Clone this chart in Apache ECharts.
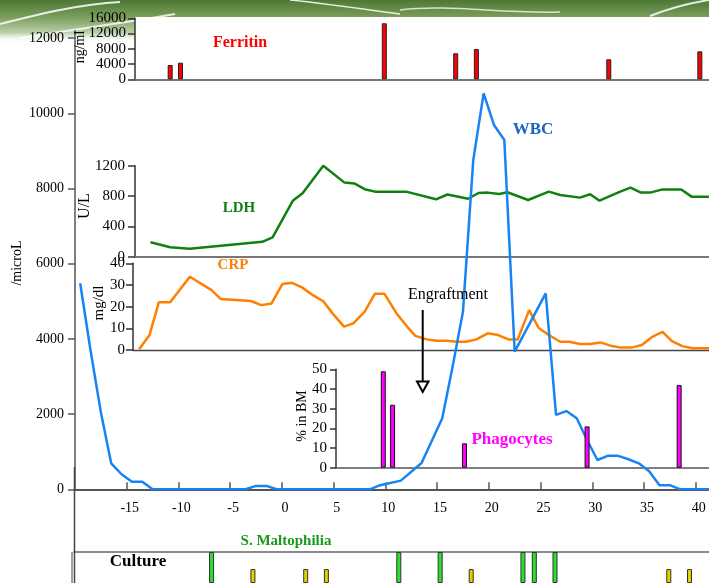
<!DOCTYPE html>
<html>
<head>
<meta charset="utf-8">
<title>WBC, LDH, CRP, Ferritin</title>
<script src="https://cdn.jsdelivr.net/npm/echarts@6/dist/echarts.min.js"></script>
<style>
  html, body { margin: 0; padding: 0; background: #fff; }
  #chart { width: 709px; height: 583px; }
</style>
</head>
<body>
<div id="chart"></div>
<script>
// tick labels
var dayTicks = [-15, -10, -5, 0, 5, 10, 15, 20, 25, 30, 35, 40];
var wbcTicks = [0, 2000, 4000, 6000, 8000, 10000, 12000];
var ferritinTicks = [0, 4000, 8000, 12000, 16000];
var ldhTicks = [0, 400, 800, 1200];
var crpTicks = [0, 10, 20, 30, 40];
var phagoTicks = [0, 10, 20, 30, 40, 50];

// WBC (/microL)
var wbcDays = [-19.5, -18.5, -17.5, -16.5, -15.5, -14.5, -13.5, -12.5, -3.5, -2.5, -1.5, -0.5, 8.5, 9.5, 11.5, 13.5, 15.5, 16.5, 17.5, 18.5, 19.5, 20.5, 21.5, 22.5, 25.5, 26.5, 27.5, 28.5, 29.5, 30.5, 31.5, 32.5, 33.5, 34.5, 35.5, 36.5, 37.5, 38.5, 41.3];
var wbcValues = [5480, 3700, 2050, 690, 400, 200, 200, 0, 0, 90, 90, 0, 0, 110, 230, 700, 1890, 3260, 4720, 8760, 10530, 9690, 9290, 3660, 5210, 1980, 2080, 1890, 1310, 780, 890, 890, 800, 690, 480, 110, 110, 0, 0];

// Ferritin (ng/ml)
var ferritinDays = [-10.8, -9.8, 9.9, 16.8, 18.8, 31.6, 40.4];
var ferritinValues = [3750, 4350, 14690, 6820, 7950, 5250, 7340];

// LDH (U/L)
var ldhDays = [-12.7, -10.8, -8.9, -1.9, -0.9, 1.05, 2.0, 4.0, 6.05, 7.0, 8.0, 9.0, 12.0, 14.9, 16.0, 18.0, 19.0, 19.9, 21.0, 21.8, 23.8, 25.8, 26.9, 28.8, 29.8, 30.7, 32.7, 33.7, 34.7, 35.6, 36.7, 38.6, 39.6, 41.3];
var ldhValues = [190, 124, 106, 196, 256, 737, 836, 1200, 977, 966, 890, 858, 858, 757, 820, 764, 840, 845, 828, 850, 748, 858, 814, 779, 823, 739, 858, 911, 845, 845, 885, 885, 792, 792];

// CRP (mg/dl)
var crpDays = [-13.8, -12.8, -11.9, -10.8, -8.9, -6.8, -5.9, -3.0, -2.0, -1.0, 0.04, 0.98, 1.94, 3.0, 4.0, 4.9, 6.0, 6.9, 8.0, 9.0, 9.9, 11.07, 12.1, 12.9, 14.0, 14.9, 15.9, 16.9, 17.8, 18.8, 19.9, 20.9, 21.9, 22.8, 23.9, 24.8, 25.8, 26.9, 27.8, 28.8, 29.8, 30.8, 31.9, 32.8, 33.8, 34.8, 35.8, 36.8, 37.7, 38.7, 39.7, 41.3];
var crpValues = [0.3, 6.9, 22, 22, 33.8, 27.6, 23.5, 22.6, 20.7, 21.5, 30.4, 31, 28.9, 25.3, 22.5, 16.9, 10.8, 12.3, 17.7, 26, 26, 17, 10.8, 6.5, 4.9, 4.3, 4.3, 3.8, 3.8, 4.9, 7.7, 6.9, 4.9, 4.9, 18.4, 10.3, 6.9, 3.8, 3.8, 2.8, 2.8, 3.5, 1.8, 1.1, 1.1, 2.3, 6.1, 8.4, 4.1, 1.8, 0.8, 0.8];

// Phagocytes (% in BM)
var phagoDays = [9.8, 10.7, 17.65, 29.5, 38.4];
var phagoValues = [49, 32, 12.4, 21, 42];

// Culture: S. Maltophilia (green) and other (yellow)
var maltoDays = [-6.8, 11.3, 15.3, 23.3, 24.4, 26.4];
var maltoLevels = [1, 1, 1, 1, 1, 1];
var otherDays = [-2.8, 2.3, 4.3, 18.3, 37.4, 39.4];
var otherLevels = [0.45, 0.45, 0.45, 0.45, 0.45, 0.45];

function pairs(xs, ys) {
  return xs.map(function (x, i) { return [x, ys[i]]; });
}

var W = 709, H = 583;
var day0Px = 281.9, pxPerDay = 10.345;
function dayAt(px) { return (px - day0Px) / pxPerDay; }
var dayMax = dayAt(W);
var serif = '"Liberation Serif", "Times New Roman", serif';
var plain = function (v) { return String(v); };

function grid(left, top, zeroY) {
  return { left: left, top: top, right: 0, bottom: H - zeroY, containLabel: false, outerBoundsMode: 'none' };
}

var grids = [
  grid(75, 30.6, 489.3),   // WBC
  grid(135, 18.3, 79.3),   // Ferritin
  grid(135, 165.7, 256.7), // LDH
  grid(133, 263.3, 350),   // CRP
  grid(336, 369.3, 467.7), // Phagocytes
  { left: 74, top: 552, right: 0, bottom: 0, containLabel: false, outerBoundsMode: 'none' } // Culture
];

function insetX(i, color, width) {
  return {
    type: 'value', gridIndex: i, min: dayAt(grids[i].left), max: dayMax,
    axisLine: { onZero: false, lineStyle: { color: color, width: width } },
    axisTick: { show: false }, axisLabel: { show: false }, splitLine: { show: false }
  };
}

function insetY(i, max, ticks, margin, tickLen) {
  return {
    type: 'value', gridIndex: i, min: 0, max: max,
    axisLine: { show: true, onZero: false, lineStyle: { color: '#333', width: 1.5 } },
    axisTick: { show: true, length: tickLen, customValues: ticks, lineStyle: { color: '#333', width: 1.5 } },
    axisLabel: { customValues: ticks, formatter: plain, margin: margin, color: '#000', fontFamily: serif, fontSize: 15 },
    splitLine: { show: false }
  };
}

var xAxes = [
  {
    type: 'value', gridIndex: 0, min: dayAt(75), max: dayMax,
    axisLine: { onZero: false, lineStyle: { color: '#555', width: 2 } },
    axisTick: { inside: true, length: 7, customValues: dayTicks, lineStyle: { color: '#555', width: 1.5 } },
    axisLabel: { customValues: dayTicks, formatter: plain, margin: 12, color: '#000', fontFamily: serif, fontSize: 14, padding: [0, 0, 0, 6] },
    splitLine: { show: false }
  },
  insetX(1, '#777', 2),
  insetX(2, '#777', 2),
  insetX(3, '#444', 1.3),
  insetX(4, '#555', 1.5),
  {
    type: 'value', gridIndex: 5, min: dayAt(74), max: dayMax, position: 'top',
    axisLine: { onZero: false, lineStyle: { color: '#666', width: 1.5 } },
    axisTick: { show: false }, axisLabel: { show: false }, splitLine: { show: false }
  }
];

var yAxes = [
  {
    type: 'value', gridIndex: 0, min: 0, max: 12200,
    axisLine: { show: true, onZero: false, lineStyle: { color: '#555', width: 1.5 } },
    axisTick: { show: true, length: 7, customValues: wbcTicks, lineStyle: { color: '#555', width: 1.5 } },
    axisLabel: { customValues: wbcTicks, formatter: plain, margin: 11, color: '#000', fontFamily: serif, fontSize: 14 },
    splitLine: { show: false }
  },
  insetY(1, 16000, ferritinTicks, 9, 7),
  insetY(2, 1200, ldhTicks, 10, 7),
  insetY(3, 40, crpTicks, 8, 7),
  insetY(4, 50, phagoTicks, 9, 6),
  {
    type: 'value', gridIndex: 5, min: 0, max: 1,
    axisLine: { show: false }, axisTick: { show: false }, axisLabel: { show: false }, splitLine: { show: false }
  }
];

function label(text, x, y, color, size, bold) {
  return {
    type: 'text', x: x, y: y, z: 50,
    style: { text: text, fill: color, font: (bold ? 'bold ' : '') + size + 'px ' + serif, align: 'center', verticalAlign: 'middle' }
  };
}
function vlabel(text, x, y, size) {
  var t = label(text, x, y, '#000', size, false);
  t.rotation = Math.PI / 2;
  return t;
}

var graphics = [
  // green header strip
  { type: 'rect', z: -10, silent: true, shape: { x: 0, y: 0, width: W, height: 17 },
    style: { fill: new echarts.graphic.LinearGradient(0, 0, 0, 1, [{ offset: 0, color: '#4d7834' }, { offset: 1, color: '#7a9e5c' }]) } },
  { type: 'rect', z: -10, silent: true, shape: { x: 0, y: 17, width: 135, height: 26 },
    style: { fill: new echarts.graphic.LinearGradient(0, 0, 0, 1, [{ offset: 0, color: '#7a9e5c' }, { offset: 0.6, color: '#b9cfa8' }, { offset: 1, color: 'rgba(255,255,255,0)' }]) } },
  { type: 'bezierCurve', z: -9, silent: true, shape: { x1: 0, y1: 24, x2: 120, y2: 2, cpx1: 40, cpy1: 14, cpx2: 80, cpy2: 4 },
    style: { stroke: 'rgba(255,255,255,0.85)', lineWidth: 2, fill: null } },
  { type: 'bezierCurve', z: -9, silent: true, shape: { x1: 20, y1: 38, x2: 175, y2: 14, cpx1: 70, cpy1: 30, cpx2: 130, cpy2: 22 },
    style: { stroke: 'rgba(255,255,255,0.8)', lineWidth: 2, fill: null } },
  { type: 'bezierCurve', z: -9, silent: true, shape: { x1: 290, y1: 0, x2: 400, y2: 14, cpx1: 330, cpy1: 4, cpx2: 370, cpy2: 10 },
    style: { stroke: 'rgba(255,255,255,0.85)', lineWidth: 1.5, fill: null } },
  { type: 'bezierCurve', z: -9, silent: true, shape: { x1: 400, y1: 10, x2: 560, y2: 12, cpx1: 450, cpy1: 4, cpx2: 500, cpy2: 14 },
    style: { stroke: 'rgba(255,255,255,0.75)', lineWidth: 1.5, fill: null } },
  { type: 'bezierCurve', z: -9, silent: true, shape: { x1: 650, y1: 16, x2: 709, y2: 0, cpx1: 670, cpy1: 8, cpx2: 690, cpy2: 3 },
    style: { stroke: 'rgba(255,255,255,0.85)', lineWidth: 2, fill: null } },

  // axis names
  vlabel('/microL', 17, 263, 14),
  vlabel('ng/ml', 80, 47, 14),
  vlabel('U/L', 85, 206, 16),
  vlabel('mg/dl', 99, 303, 15),
  vlabel('% in BM', 302, 416, 14),

  // series labels
  label('Ferritin', 240, 43, '#ff0000', 16, true),
  label('WBC', 533, 130, '#1a62c4', 17, true),
  label('LDH', 239, 208, '#108010', 15, true),
  label('CRP', 233, 265, '#ff7f00', 15, true),
  label('Phagocytes', 512, 440, '#ff00ff', 17, true),
  label('Engraftment', 448, 295, '#000', 16, false),
  label('S. Maltophilia', 286, 541, '#1a9a1a', 15, true),
  label('Culture', 138, 562, '#000', 17, true),

  // engraftment arrow
  { type: 'line', z: 50, shape: { x1: 422.7, y1: 310, x2: 422.7, y2: 382 }, style: { stroke: '#000', lineWidth: 2 } },
  { type: 'polygon', z: 50, shape: { points: [[417, 381.5], [428.5, 381.5], [422.7, 392]] }, style: { fill: '#fff', stroke: '#000', lineWidth: 2 } },

  // lower frame lines
  { type: 'line', z: 20, shape: { x1: 74.5, y1: 467, x2: 74.5, y2: 583 }, style: { stroke: '#444', lineWidth: 1.5 } },
  { type: 'line', z: 20, shape: { x1: 72, y1: 552, x2: 72, y2: 583 }, style: { stroke: '#444', lineWidth: 1 } }
];

var chart = echarts.init(document.getElementById('chart'), null, { renderer: 'canvas' });

chart.setOption({
  animation: false,
  backgroundColor: '#fff',
  grid: grids,
  xAxis: xAxes,
  yAxis: yAxes,
  graphic: graphics,
  series: [
    {
      name: 'LDH', type: 'line', xAxisIndex: 2, yAxisIndex: 2, data: pairs(ldhDays, ldhValues),
      symbol: 'none', lineStyle: { color: '#108010', width: 2.5 }, z: 3
    },
    {
      name: 'CRP', type: 'line', xAxisIndex: 3, yAxisIndex: 3, data: pairs(crpDays, crpValues),
      symbol: 'none', lineStyle: { color: '#ff7f00', width: 2.5 }, z: 3
    },
    {
      name: 'WBC', type: 'line', xAxisIndex: 0, yAxisIndex: 0, data: pairs(wbcDays, wbcValues),
      symbol: 'none', lineStyle: { color: '#1784f5', width: 2.5 }, z: 4
    },
    {
      name: 'Ferritin', type: 'bar', xAxisIndex: 1, yAxisIndex: 1, data: pairs(ferritinDays, ferritinValues),
      barWidth: 5, itemStyle: { color: '#ff0000', borderColor: '#222', borderWidth: 1 }, z: 5
    },
    {
      name: 'Phagocytes', type: 'bar', xAxisIndex: 4, yAxisIndex: 4, data: pairs(phagoDays, phagoValues),
      barWidth: 5, itemStyle: { color: '#ff00ff', borderColor: '#111', borderWidth: 1 }, z: 5
    },
    {
      name: 'S. Maltophilia', type: 'bar', xAxisIndex: 5, yAxisIndex: 5, data: pairs(maltoDays, maltoLevels),
      barWidth: 5, barGap: '-100%', itemStyle: { color: '#2ee02e', borderColor: '#333', borderWidth: 1 }, z: 5
    },
    {
      name: 'Other culture', type: 'bar', xAxisIndex: 5, yAxisIndex: 5, data: pairs(otherDays, otherLevels),
      barWidth: 5, barGap: '-100%', itemStyle: { color: '#d9d400', borderColor: '#333', borderWidth: 1 }, z: 5
    }
  ]
});
</script>
</body>
</html>
